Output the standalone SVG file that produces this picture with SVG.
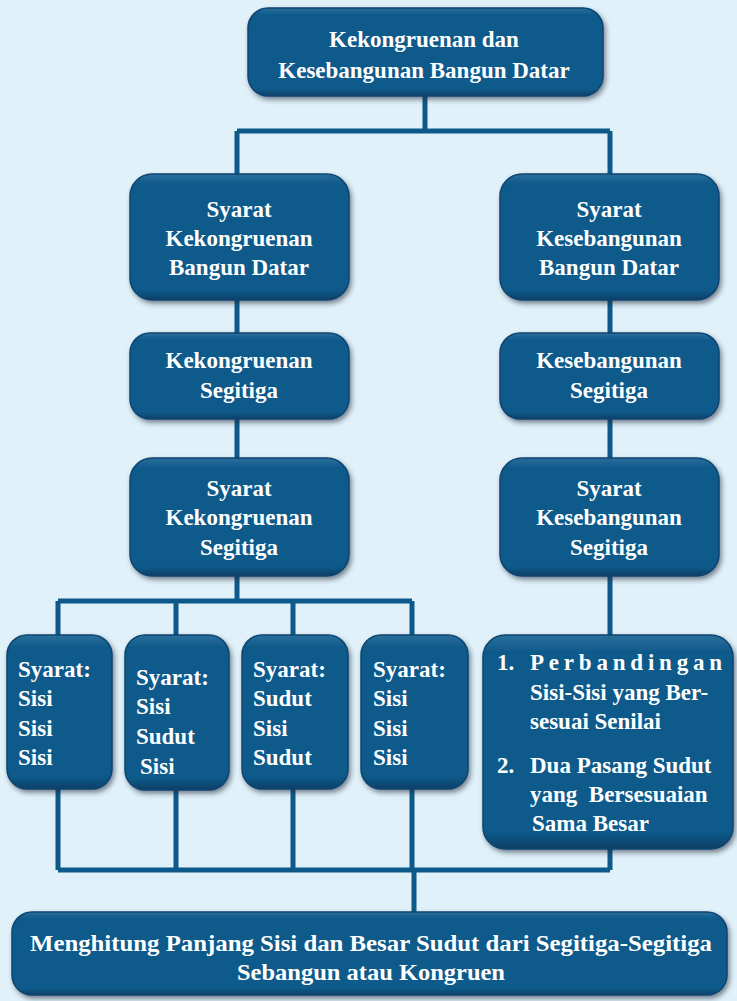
<svg xmlns="http://www.w3.org/2000/svg" width="737" height="1001" viewBox="0 0 737 1001">
<defs>
<filter id="sh" x="-10%" y="-10%" width="125%" height="130%">
<feDropShadow dx="2" dy="3" stdDeviation="2.5" flood-color="#1a2a3a" flood-opacity="0.55"/>
</filter>
<linearGradient id="g" x1="0" y1="0" x2="0" y2="1">
<stop offset="0" stop-color="#2a6f9c"/>
<stop offset="0.08" stop-color="#0f5a8b"/>
<stop offset="0.92" stop-color="#0f5a8b"/>
<stop offset="1" stop-color="#0a3f66"/>
</linearGradient>
</defs>
<style>
.n{fill:url(#g);stroke:#0b4570;stroke-width:1.5;filter:url(#sh)}
.t{font-family:'Liberation Serif','Times New Roman',serif;font-weight:bold;font-size:23px;fill:#ffffff}
.c{text-anchor:middle}
.l{fill:none;stroke:#0d5a8a;stroke-width:5}
</style>
<rect width="737" height="1001" fill="#e0f1f9"/>
<g id="connectors">
<path class="l" d="M425 95V131M237 131H610M237 131V175M610 131V175"/>
<path class="l" d="M237 300V333M237 418V458M237 575V601M58 601H412M58 601V635M176 601V635M293 601V635M412 601V635"/>
<path class="l" d="M610 300V333M610 418V458M610 575V635"/>
<path class="l" d="M58 788V870M176 788V870M293 788V870M412 788V870M610 848V870M58 870H610M414 870V912"/>
</g>
<g id="n-top"><rect class="n" x="248" y="8" width="355" height="88" rx="20"/>
<text class="t c" x="424" y="47">Kekongruenan dan</text>
<text class="t c" x="424" y="78">Kesebangunan Bangun Datar</text></g>
<g id="n-sk"><rect class="n" x="130" y="174" width="219" height="126" rx="22"/>
<text class="t c" x="239" y="217">Syarat</text>
<text class="t c" x="239" y="246">Kekongruenan</text>
<text class="t c" x="239" y="275">Bangun Datar</text></g>
<g id="n-ss"><rect class="n" x="500" y="174" width="219" height="126" rx="22"/>
<text class="t c" x="609" y="217">Syarat</text>
<text class="t c" x="609" y="246">Kesebangunan</text>
<text class="t c" x="609" y="275">Bangun Datar</text></g>
<g id="n-ks"><rect class="n" x="130" y="333" width="219" height="86" rx="20"/>
<text class="t c" x="239" y="368">Kekongruenan</text>
<text class="t c" x="239" y="398">Segitiga</text></g>
<g id="n-kes"><rect class="n" x="500" y="333" width="219" height="86" rx="20"/>
<text class="t c" x="609" y="368">Kesebangunan</text>
<text class="t c" x="609" y="398">Segitiga</text></g>
<g id="n-sks"><rect class="n" x="130" y="458" width="219" height="118" rx="22"/>
<text class="t c" x="239" y="496">Syarat</text>
<text class="t c" x="239" y="525">Kekongruenan</text>
<text class="t c" x="239" y="555">Segitiga</text></g>
<g id="n-sss"><rect class="n" x="500" y="458" width="219" height="118" rx="22"/>
<text class="t c" x="609" y="496">Syarat</text>
<text class="t c" x="609" y="525">Kesebangunan</text>
<text class="t c" x="609" y="555">Segitiga</text></g>
<g id="n-sss1"><rect class="n" x="7" y="635" width="105" height="154" rx="20"/>
<text class="t" x="18" y="677">Syarat:</text>
<text class="t" x="18" y="706">Sisi</text>
<text class="t" x="18" y="736">Sisi</text>
<text class="t" x="18" y="765">Sisi</text></g>
<g id="n-sss2"><rect class="n" x="125" y="635" width="104" height="155" rx="20"/>
<text class="t" x="136" y="685">Syarat:</text>
<text class="t" x="136" y="714">Sisi</text>
<text class="t" x="136" y="744">Sudut</text>
<text class="t" x="140" y="774">Sisi</text></g>
<g id="n-sss3"><rect class="n" x="242" y="635" width="106" height="154" rx="20"/>
<text class="t" x="253" y="677">Syarat:</text>
<text class="t" x="253" y="706">Sudut</text>
<text class="t" x="253" y="736">Sisi</text>
<text class="t" x="253" y="765">Sudut</text></g>
<g id="n-sss4"><rect class="n" x="361" y="635" width="107" height="154" rx="20"/>
<text class="t" x="373" y="677">Syarat:</text>
<text class="t" x="373" y="706">Sisi</text>
<text class="t" x="373" y="736">Sisi</text>
<text class="t" x="373" y="765">Sisi</text></g>
<g id="n-list"><rect class="n" x="483" y="635" width="250" height="214" rx="22"/>
<text class="t" x="497" y="670">1.</text>
<text class="t" x="530" y="670" textLength="192" lengthAdjust="spacing">Perbandingan</text>
<text class="t" x="530" y="700">Sisi-Sisi yang Ber-</text>
<text class="t" x="530" y="729">sesuai Senilai</text>
<text class="t" x="497" y="773">2.</text>
<text class="t" x="530" y="773">Dua Pasang Sudut</text>
<text class="t" x="530" y="802" xml:space="preserve">yang  Bersesuaian</text>
<text class="t" x="532" y="831">Sama Besar</text></g>
<g id="n-bottom"><rect class="n" x="12" y="912" width="715" height="83" rx="20"/>
<text class="t c" x="371" y="951" textLength="682" lengthAdjust="spacingAndGlyphs">Menghitung Panjang Sisi dan Besar Sudut dari Segitiga-Segitiga</text>
<text class="t c" x="371" y="980" textLength="268" lengthAdjust="spacingAndGlyphs">Sebangun atau Kongruen</text></g>
</svg>
